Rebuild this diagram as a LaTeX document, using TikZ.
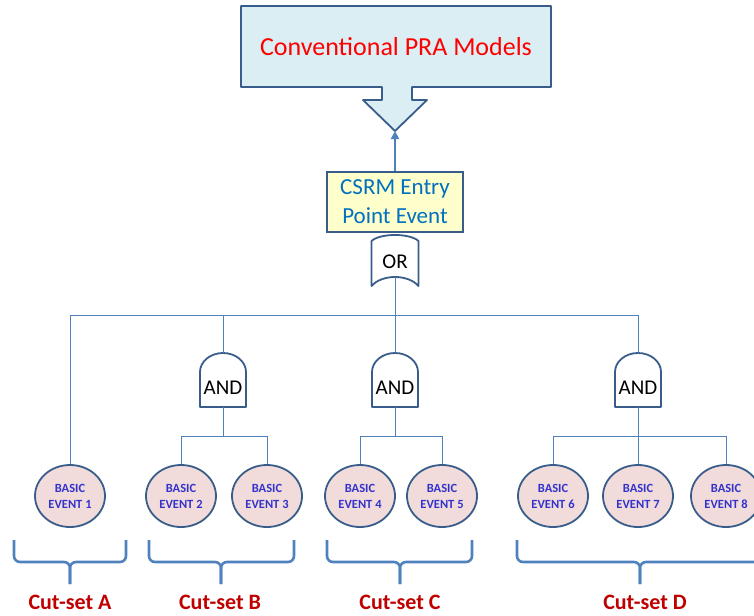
\documentclass[tikz,border=0pt]{standalone}
\usepackage{fontspec}
\setmainfont{Carlito}
\usetikzlibrary{arrows.meta,shapes.geometric}
\definecolor{edgeblue}{HTML}{385D8A}
\definecolor{linkblue}{HTML}{4F81BD}
\definecolor{prafill}{HTML}{DBEEF4}
\definecolor{csrmfill}{HTML}{FFFFCC}
\definecolor{csrmtext}{HTML}{0070C0}
\definecolor{befill}{HTML}{F2DCDB}
\definecolor{betext}{HTML}{3333CC}
\definecolor{cutred}{HTML}{C00000}
\definecolor{titlered}{HTML}{FF0000}
\begin{document}
\begin{tikzpicture}[x=1pt,y=-1pt,
  conn/.style={draw=linkblue, line width=0.9pt},
  outline/.style={draw=edgeblue, line width=1.8pt, line join=round},
  gatebox/.style={minimum width=46pt, minimum height=54pt, inner sep=0pt},
  gatetext/.style={font=\fontsize{21}{25}\selectfont},
  basicev/.style={ellipse, draw=edgeblue, line width=1.8pt, fill=befill,
    minimum width=70pt, minimum height=62pt, inner sep=0pt, align=center,
    text=betext, font=\bfseries\fontsize{12.5}{16}\selectfont},
  cutlabel/.style={text=cutred, font=\bfseries\fontsize{22}{26}\selectfont},
  bracepath/.style={draw=linkblue, line width=2.6pt, rounded corners=6pt},
  csrmbox/.style={draw=edgeblue, line width=1.8pt, fill=csrmfill,
    minimum width=136pt, minimum height=60pt, align=center, text=csrmtext,
    font=\fontsize{23}{29}\selectfont},
  titletext/.style={text=titlered, font=\fontsize{26}{30}\selectfont},
]
\useasboundingbox (0,0) rectangle (754,615);

% top PRA callout box
\draw[outline, fill=prafill] (241,6) -- (551,6) -- (551,87) -- (412,87) -- (412,100)
  -- (427,100) -- (395,131) -- (363,100) -- (382,100) -- (382,87) -- (241,87) -- cycle;
\node[titletext] (pra) at (396,47) {Conventional PRA Models};
\coordinate (tip) at (395,131);

% CSRM entry box
\node[csrmbox] (csrm) at (395,202) {CSRM Entry\\Point Event};
\draw[draw=linkblue, line width=2.2pt, -{Triangle[length=8pt,width=8pt]}] (csrm.north) -- (tip);

% OR gate
\node[minimum width=47pt, minimum height=51pt, inner sep=0pt] (org) at (395,260.5) {};
\draw[outline] (371.5,286) -- (371.5,241) .. controls (380,233) and (410,233) .. (418.5,241)
  -- (418.5,286) .. controls (408,274) and (382,274) .. cycle;
\node[gatetext] at (395,262) {OR};

% AND gates
\foreach \n/\cx in {and1/223, and2/395, and3/638} {
  \node[gatebox] (\n) at (\cx,380) {};
  \draw[outline] (\cx-23,407) -- (\cx-23,372) .. controls (\cx-23,361.5) and (\cx-12.7,353) .. (\cx,353)
    .. controls (\cx+12.7,353) and (\cx+23,361.5) .. (\cx+23,372) -- (\cx+23,407) -- cycle;
  \node[gatetext] at (\cx,388) {AND};
}

% basic events
\foreach \n/\cx in {1/70, 2/181, 3/267, 4/360, 5/442, 6/553, 7/638, 8/726} {
  \node[basicev] (be\n) at (\cx,496) {BASIC\\EVENT \n};
}

% connectors
\coordinate (bus) at (0,315);
\coordinate (bar) at (0,436);
\draw[conn] ([yshift=9pt]org.south) -- (and2.north);
\draw[conn] (be1.north) -- (be1.north |- bus) -- (and3.north |- bus) -- (and3.north);
\draw[conn] (and1.north) -- (and1.north |- bus);
\draw[conn] (be2.north) -- (be2.north |- bar) -- (be3.north |- bar) -- (be3.north);
\draw[conn] (and1.south) -- (and1.south |- bar);
\draw[conn] (be4.north) -- (be4.north |- bar) -- (be5.north |- bar) -- (be5.north);
\draw[conn] (and2.south) -- (and2.south |- bar);
\draw[conn] (be6.north) -- (be6.north |- bar) -- (be8.north |- bar) -- (be8.north);
\draw[conn] (and3.south) -- (be7.north);

% braces and cut-set labels
\foreach \l/\r/\c in {14/126/70, 149/294/221, 327/472/400, 517/770/640} {
  \draw[bracepath] (\l,540) -- (\l,562) -- (\c,562) -- (\c,584);
  \draw[bracepath] (\r,540) -- (\r,562) -- (\c,562) -- (\c,584);
}
\node[cutlabel] (cutA) at (70,602.5) {Cut-set A};
\node[cutlabel] (cutB) at (220,602.5) {Cut-set B};
\node[cutlabel] (cutC) at (400,602.5) {Cut-set C};
\node[cutlabel] (cutD) at (645,602.5) {Cut-set D};
\end{tikzpicture}
\end{document}
